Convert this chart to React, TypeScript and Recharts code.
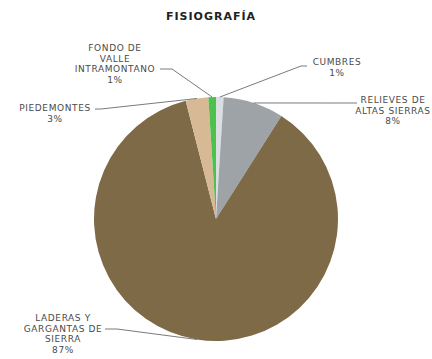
import { PieChart, Pie, Cell } from 'recharts';

const CATEGORIES = [
  'CUMBRES',
  'RELIEVES DE ALTAS SIERRAS',
  'LADERAS Y GARGANTAS DE SIERRA',
  'PIEDEMONTES',
  'FONDO DE VALLE INTRAMONTANO',
];
const VALUES = [1, 8, 87, 3, 1];
const LABEL_LINES = [
  ['CUMBRES'],
  ['RELIEVES DE', 'ALTAS SIERRAS'],
  ['LADERAS Y', 'GARGANTAS DE', 'SIERRA'],
  ['PIEDEMONTES'],
  ['FONDO DE', 'VALLE', 'INTRAMONTANO'],
];
const COLORS = ['#dadee2', '#9ea3a8', '#7f6a47', '#d8b995', '#4cc24c'];

// label placement relative to the pie centre: text centre, leader start, elbow
const LABEL_LAYOUT = [
  { dx: 121, dy: -157, sx: 91, sy: -153, ex: 85, ey: -153 },
  { dx: 177, dy: -119, sx: 141, sy: -116, ex: 141, ey: -116 },
  { dx: -153, dy: 99, sx: -111, sy: 110, ex: -99, ey: 110 },
  { dx: -161, dy: -111, sx: -121, sy: -110, ex: -115, ey: -110 },
  { dx: -101, dy: -171, sx: -56, sy: -150, ex: -44, ey: -150 },
];

const data = CATEGORIES.map((name, i) => ({ name, value: VALUES[i] }));
const RADIAN = Math.PI / 180;
const LINE_H = 10.5;
const FONT = "'DejaVu Sans', Verdana, sans-serif";

function SliceLabel(props: any) {
  const { cx, cy, midAngle, outerRadius, index, percent } = props;
  const lay = LABEL_LAYOUT[index];
  const lines = [...LABEL_LINES[index], `${Math.round(percent * 100)}%`];
  const px = cx + outerRadius * Math.cos(-midAngle * RADIAN);
  const py = cy + outerRadius * Math.sin(-midAngle * RADIAN);
  return (
    <g>
      <polyline
        points={`${cx + lay.sx},${cy + lay.sy} ${cx + lay.ex},${cy + lay.ey} ${px},${py}`}
        fill="none"
        stroke="#6b6b6b"
        strokeWidth={0.9}
      />
      <text
        x={cx + lay.dx}
        y={cy + lay.dy}
        textAnchor="middle"
        fill="#4a4a4a"
        fontSize={9}
        fontFamily={FONT}
        letterSpacing={0.6}
      >
        {lines.map((t, k) => (
          <tspan key={k} x={cx + lay.dx} dy={k === 0 ? 3 : LINE_H}>
            {t}
          </tspan>
        ))}
      </text>
    </g>
  );
}

export default function App() {
  return (
    <div style={{ width: 432, height: 359, background: '#fff' }}>
      <style>{'body{margin:0;background:#fff}'}</style>
      <PieChart width={432} height={359}>
        <text
          x={211}
          y={20}
          textAnchor="middle"
          fontSize={11}
          fontWeight="bold"
          fontFamily={FONT}
          letterSpacing={1}
          fill="#222"
        >
          FISIOGRAFÍA
        </text>
        <Pie
          data={data}
          dataKey="value"
          nameKey="name"
          cx={211}
          cy={214}
          outerRadius={122}
          startAngle={90}
          endAngle={-270}
          stroke="none"
          label={SliceLabel}
          labelLine={false}
          isAnimationActive={false}
        >
          {data.map((d, i) => (
            <Cell key={d.name} fill={COLORS[i]} />
          ))}
        </Pie>
      </PieChart>
    </div>
  );
}
